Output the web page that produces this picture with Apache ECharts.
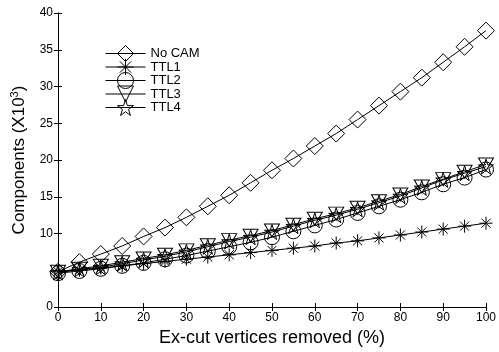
<!DOCTYPE html>
<html>
<head>
<meta charset="utf-8">
<script src="https://cdn.jsdelivr.net/npm/echarts@6/dist/echarts.min.js"></script>
<style>
  html, body { margin: 0; padding: 0; background: #fff; }
  #chart { width: 499px; height: 352px; }
</style>
</head>
<body>
<div id="chart"></div>
<script>
// x轴: 删除的顶点百分比
const removed = [0, 5, 10, 15, 20, 25, 30, 35, 40, 45, 50, 55, 60, 65, 70, 75, 80, 85, 90, 95, 100]
// 各条曲线 (单位 x10^3)
const noCam = [4.8, 6.1, 7.2, 8.3, 9.6, 10.8, 12.2, 13.7, 15.2, 16.9, 18.6, 20.2, 21.9, 23.6, 25.5, 27.4, 29.3, 31.2, 33.3, 35.4, 37.6]
const ttl1 = [4.8, 5.0, 5.3, 5.6, 5.9, 6.2, 6.5, 6.8, 7.1, 7.4, 7.7, 8.0, 8.3, 8.7, 9.0, 9.4, 9.8, 10.2, 10.6, 11.0, 11.4]
const ttl2 = [4.6, 4.9, 5.2, 5.6, 6.0, 6.5, 7.0, 7.6, 8.2, 8.8, 9.5, 10.3, 11.1, 11.9, 12.8, 13.7, 14.6, 15.6, 16.7, 17.6, 18.7]
const ttl3 = [4.8, 5.2, 5.6, 6.1, 6.6, 7.1, 7.7, 8.4, 9.1, 9.7, 10.4, 11.2, 12.0, 12.7, 13.5, 14.4, 15.3, 16.4, 17.4, 18.4, 19.4]
const ttl4 = [4.7, 5.1, 5.4, 5.9, 6.4, 6.9, 7.5, 8.2, 8.9, 9.5, 10.2, 11.0, 11.8, 12.5, 13.3, 14.2, 15.1, 16.2, 17.3, 18.2, 19.1]
const seriesNames = ['No CAM', 'TTL1', 'TTL2', 'TTL3', 'TTL4']
// y轴上不显示的刻度标签
const hiddenYLabels = [5]

const FONT = 'Liberation Sans'

// 自定义的空心符号 (只描边)
const ASTERISK = 'path://M50,0L50,100M0,50L100,50M15,15L85,85M15,85L85,15'
const TRI_DOWN = 'path://M0,0L100,0L50,87Z'
const STAR = 'path://M100,0L122.45,69.1L195.1,69.1L136.3,111.8L158.8,180.9L100,138.2L41.2,180.9L63.7,111.8L4.9,69.1L77.55,69.1Z'

const zip = ys => removed.map((x, i) => [x, ys[i]])

function makeSeries(name, ys, symbol, size) {
  return {
    name: name,
    type: 'line',
    data: zip(ys),
    symbol: symbol,
    symbolSize: size,
    lineStyle: { color: '#000', width: 1 },
    itemStyle: { color: 'transparent', borderColor: '#000', borderWidth: 1 },
    emphasis: { disabled: true }
  }
}

const chart = echarts.init(document.getElementById('chart'))

const option = {
  animation: false,
  backgroundColor: '#fff',
  textStyle: { fontFamily: FONT },
  grid: { left: 58, right: 7, top: 13, bottom: 39 },
  legend: {
    orient: 'vertical',
    left: 100,
    top: 40,
    itemWidth: 40,
    itemHeight: 20,
    itemGap: -3.5,
    iconRotate: 'inherit',
    data: seriesNames,
    lineStyle: { width: 1, color: '#000' },
    itemStyle: { borderWidth: 1, borderColor: '#000', color: 'transparent' },
    textStyle: { fontFamily: FONT, fontSize: 13, color: '#000' }
  },
  xAxis: [
    {
      type: 'value',
      min: 0,
      max: 100,
      interval: 10,
      name: 'Ex-cut vertices removed (%)',
      nameLocation: 'middle',
      nameGap: 22,
      nameTextStyle: { fontFamily: FONT, fontSize: 18, color: '#000' },
      axisLine: { lineStyle: { color: '#000', width: 1 } },
      axisTick: { inside: true, length: 4, lineStyle: { color: '#000' } },
      axisLabel: { fontFamily: FONT, fontSize: 12, color: '#000', margin: 5 },
      splitLine: { show: false }
    },
    {
      type: 'value',
      position: 'top',
      min: 0,
      max: 100,
      interval: 10,
      axisLine: { lineStyle: { color: '#000', width: 1 } },
      axisTick: { inside: true, length: 4, lineStyle: { color: '#000' } },
      axisLabel: { show: false },
      splitLine: { show: false }
    }
  ],
  yAxis: [
    {
      type: 'value',
      min: 0,
      max: 40,
      interval: 5,
      name: '{a|Components (X10}{s|3}{a|)}',
      nameLocation: 'middle',
      nameRotate: 90,
      nameGap: 28,
      nameTextStyle: {
        rich: {
          a: { fontFamily: FONT, fontSize: 17, color: '#000', lineHeight: 20 },
          s: { fontFamily: FONT, fontSize: 11, color: '#000', lineHeight: 20, verticalAlign: 'top', padding: [0, 0, 8, 0] }
        }
      },
      axisLine: { lineStyle: { color: '#000', width: 1 } },
      axisTick: { inside: true, length: 4, lineStyle: { color: '#000' } },
      axisLabel: {
        fontFamily: FONT,
        fontSize: 12,
        color: '#000',
        margin: 5,
        formatter: v => (hiddenYLabels.indexOf(v) >= 0 ? '' : String(v))
      },
      splitLine: { show: false }
    },
    {
      type: 'value',
      position: 'right',
      min: 0,
      max: 40,
      interval: 5,
      axisLine: { lineStyle: { color: '#000', width: 1 } },
      axisTick: { inside: true, length: 4, lineStyle: { color: '#000' } },
      axisLabel: { show: false },
      splitLine: { show: false }
    }
  ],
  series: [
    makeSeries(seriesNames[0], noCam, 'diamond', 17),
    makeSeries(seriesNames[1], ttl1, ASTERISK, 13),
    makeSeries(seriesNames[2], ttl2, 'circle', 15),
    makeSeries(seriesNames[3], ttl3, TRI_DOWN, [15, 13]),
    makeSeries(seriesNames[4], ttl4, STAR, 15)
  ]
}

chart.setOption(option)
</script>
</body>
</html>
